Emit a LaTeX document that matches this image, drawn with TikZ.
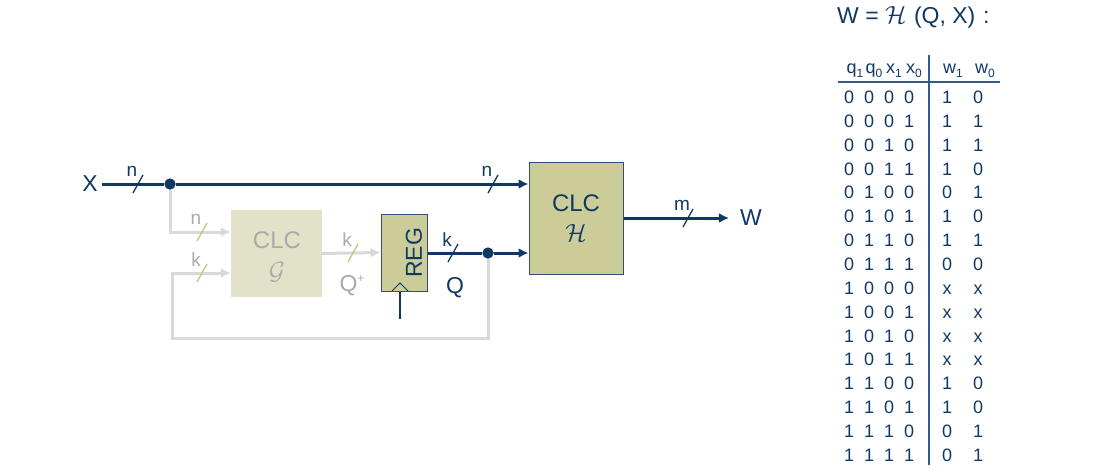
\documentclass[tikz,border=0pt]{standalone}
\usepackage{fontspec}
\setmainfont{Liberation Sans}
\usetikzlibrary{arrows.meta,calc}
\definecolor{dblue}{RGB}{16,56,100}
\definecolor{boxfill}{RGB}{204,204,153}
\definecolor{boxline}{RGB}{50,80,120}
\definecolor{fadefill}{RGB}{226,226,200}
\definecolor{fadeline}{RGB}{217,217,217}
\definecolor{fadetext}{RGB}{170,170,170}
\definecolor{fadeslash}{RGB}{196,196,130}
\definecolor{tline}{RGB}{50,90,140}
\newcommand\fsz[1]{\fontsize{#1}{#1}\selectfont}
\newcommand\sbs[1]{\raisebox{-4pt}{\fsz{12}#1}}
\newcommand\bw[5]{%
  \coordinate (#1) at #2;
  \draw[#4] ([shift={(-5,9)}]#1) -- ([shift={(5,-9)}]#1);
  \node[#5] (#1l) at ([shift={(-6,-13)}]#1) {#3};}
\tikzset{
  bus/.style={draw=dblue, line width=3pt},
  fbus/.style={draw=fadeline, line width=3pt},
  arr/.style={-{Latex[length=10pt,width=10pt]}},
  slashb/.style={draw=dblue, line width=1.3pt},
  slashf/.style={draw=fadeslash, line width=1.3pt},
  lblb/.style={text=dblue, font=\fsz{19}, inner sep=0pt},
  lblf/.style={text=fadetext, font=\fsz{19}, inner sep=0pt},
  bigtxt/.style={text=dblue, font=\fsz{23}, inner sep=0pt},
  dot/.style={circle, fill=dblue, minimum size=11pt, inner sep=0pt},
  hbox/.style={draw=boxline, fill=boxfill, line width=1pt, minimum width=94pt, minimum height=112pt, inner sep=0pt},
  gbox/.style={fill=fadefill, minimum width=91pt, minimum height=87pt, inner sep=0pt},
  rbox/.style={draw=boxline, fill=boxfill, line width=1pt, minimum width=46pt, minimum height=77pt, inner sep=0pt},
  tcell/.style={text=dblue, font=\fsz{18}, inner sep=0pt, anchor=base},
}
\begin{document}
\begin{tikzpicture}[x=1pt,y=-1pt]
\useasboundingbox (0,0) rectangle (1116,474);
% blocks
\node[hbox] (H) at (576,218) {};
\node[gbox] (G) at (276.5,253.5) {};
\node[rbox] (REG) at (404,252.5) {};
\node[text=dblue, font=\fsz{24}, inner sep=0pt] (Ht) at (576,203) {CLC};
\node[text=dblue, font=\fsz{23}, inner sep=0pt] (Hs) at (576,233) {$\mathcal{H}$};
\node[text=fadetext, font=\fsz{24}, inner sep=0pt] (Gt) at (277,240) {CLC};
\node[text=fadetext, font=\fsz{23}, inner sep=0pt] (Gs) at (277,272) {$\mathcal{G}$};
\node[bigtxt, rotate=90] (REGt) at (414,253) {REG};
% labels
\node[bigtxt] (X) at (90,184) {X};
\node[bigtxt] (W) at (751,218) {W};
\node[bigtxt] (Q) at (455,288) {Q};
\node[text=fadetext, font=\fsz{23}, inner sep=0pt] (Qp) at (352,286) {Q\raisebox{9pt}{\fsz{12}+}};
% dots and coordinates
\node[dot] (d1) at (170,184) {};
\node[dot] (d2) at (488,253) {};
\coordinate (gin1) at ([yshift=21.5pt]G.west);
\coordinate (gin2) at ([yshift=-19.5pt]G.west);
\coordinate (fb) at (172,338);
\coordinate (clk) at (400,319);
% faded connectors
\draw[fbus, arr] (d1) |- (gin1);
\draw[fbus, arr] (d2) |- (fb) |- (gin2);
\draw[fbus, arr] (G.east) -- (REG.west);
% blue connectors
\draw[bus] ([xshift=4pt]X.east) -- (d1);
\draw[bus, arr] (d1) -- (d1 -| H.west);
\draw[bus] (REG.east |- d2) -- (d2);
\draw[bus, arr] (d2) -- (d2 -| H.west);
\draw[bus, arr] (H.east) -- ([xshift=-11pt]W.west);
\draw[dblue, line width=1.2pt] (clk) -- (clk |- REG.south);
\draw[dblue, line width=1pt] (392,291) -- (400,283) -- (408,291);
\node[dot] at (d1) {};
\node[dot] at (d2) {};
% bus widths
\bw{s1}{(138,184)}{n}{slashb}{lblb}
\bw{s2}{(493,184)}{n}{slashb}{lblb}
\bw{s3}{(202,232)}{n}{slashf}{lblf}
\bw{s4}{(202,273)}{k}{slashf}{lblf}
\bw{s5}{(353,253)}{k}{slashf}{lblf}
\bw{s6}{(453,253)}{k}{slashb}{lblb}
\bw{s7}{(688,218)}{m}{slashb}{lblb}
% table
\node[text=dblue, font=\fsz{23}, inner sep=0pt, anchor=base west] (title) at (837,23) {W = $\mathcal{H}$\,\,(Q, X)\,\,:};
\node[tcell] (hq1) at (855,73) {q\sbs1};
\node[tcell] (hq0) at (874,73) {q\sbs0};
\node[tcell] (hx1) at (894,73) {x\sbs1};
\node[tcell] (hx0) at (914,73) {x\sbs0};
\node[tcell] (hw1) at (953,73) {w\sbs1};
\node[tcell] (hw0) at (985,73) {w\sbs0};
\coordinate (hl1) at (838,82);
\coordinate (hl2) at (1000,82);
\coordinate (vl1) at (929,55);
\coordinate (vl2) at (929,465);
\draw[tline, line width=1.5pt] (hl1) -- (hl2);
\draw[tline, line width=1.5pt] (vl1) -- (vl2);
\foreach \a/\b/\c/\d/\e/\f [count=\i from 0] in
 {0/0/0/0/1/0, 0/0/0/1/1/1, 0/0/1/0/1/1, 0/0/1/1/1/0,
  0/1/0/0/0/1, 0/1/0/1/1/0, 0/1/1/0/1/1, 0/1/1/1/0/0,
  1/0/0/0/x/x, 1/0/0/1/x/x, 1/0/1/0/x/x, 1/0/1/1/x/x,
  1/1/0/0/1/0, 1/1/0/1/1/0, 1/1/1/0/0/1, 1/1/1/1/0/1}{
  \pgfmathsetmacro\yy{103.5+23.85*\i}
  \node[tcell] (r\i a) at (849,\yy) {\a};
  \node[tcell] (r\i b) at (869,\yy) {\b};
  \node[tcell] (r\i c) at (889,\yy) {\c};
  \node[tcell] (r\i d) at (909,\yy) {\d};
  \node[tcell] (r\i e) at (947,\yy) {\e};
  \node[tcell] (r\i f) at (978,\yy) {\f};
}
\end{tikzpicture}
\end{document}
